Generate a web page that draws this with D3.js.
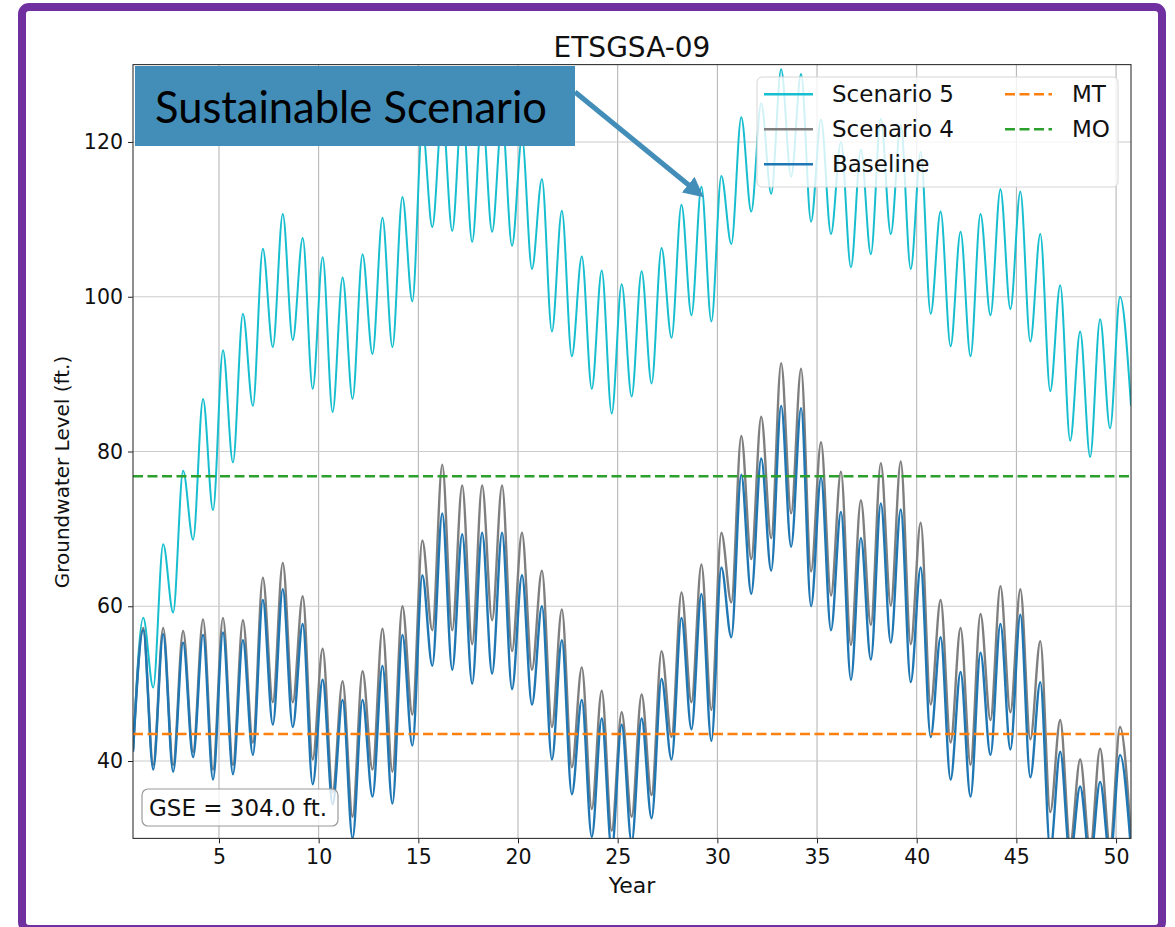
<!DOCTYPE html>
<html>
<head>
<meta charset="utf-8">
<script src="https://cdn.jsdelivr.net/npm/d3@7"></script>
<style>
  html, body { margin: 0; padding: 0; background: #ffffff; }
  svg { display: block; }
</style>
</head>
<body>
<svg id="chart" width="1175" height="927"></svg>
<script>
// Knot times (years): record start, then each year's seasonal high (~x.2) and low (~x.7)
const knotYears = [0.69,
  1.2, 1.7, 2.2, 2.7, 3.2, 3.7, 4.2, 4.7, 5.2, 5.7, 6.2, 6.7, 7.2, 7.7, 8.2, 8.7, 9.2, 9.7, 10.2, 10.7,
  11.2, 11.7, 12.2, 12.7, 13.2, 13.7, 14.2, 14.7, 15.2, 15.7, 16.2, 16.7, 17.2, 17.7, 18.2, 18.7, 19.2, 19.7, 20.2, 20.7,
  21.2, 21.7, 22.2, 22.7, 23.2, 23.7, 24.2, 24.7, 25.2, 25.7, 26.2, 26.7, 27.2, 27.7, 28.2, 28.7, 29.2, 29.7, 30.2, 30.7,
  31.2, 31.7, 32.2, 32.7, 33.2, 33.7, 34.2, 34.7, 35.2, 35.7, 36.2, 36.7, 37.2, 37.7, 38.2, 38.7, 39.2, 39.7, 40.2, 40.7,
  41.2, 41.7, 42.2, 42.7, 43.2, 43.7, 44.2, 44.7, 45.2, 45.7, 46.2, 46.7, 47.2, 47.7, 48.2, 48.7, 49.2, 49.7, 50.2, 50.75];

// Groundwater level (ft.) at each knot
const baseline = [41.2,
  56.9, 38.9, 56.4, 38.6, 55.3, 40.5, 56.3, 37.6, 56.6, 38.3, 55.6, 40.8, 60.8, 44.7, 62.2, 44.4, 57.7, 37.0, 50.5, 34.4,
  47.9, 30.0, 47.9, 35.4, 52.3, 34.5, 56.3, 42.0, 64.0, 52.3, 72.0, 51.8, 69.3, 50.0, 69.5, 51.3, 69.5, 49.3, 64.0, 47.3,
  60.0, 40.2, 55.6, 35.7, 47.9, 30.2, 45.5, 28.5, 44.7, 29.5, 45.5, 32.6, 50.6, 40.2, 58.5, 44.1, 61.6, 42.6, 65.0, 56.0,
  77.0, 61.6, 79.1, 64.6, 85.9, 67.7, 85.6, 60.0, 76.6, 56.9, 72.2, 50.5, 68.8, 53.1, 73.3, 55.3, 72.5, 50.2, 65.0, 43.1,
  56.0, 37.6, 51.5, 35.4, 54.0, 40.8, 57.7, 41.5, 58.9, 37.9, 50.2, 28.5, 41.2, 27.5, 36.7, 27.0, 37.3, 27.5, 40.8, 28.5];

const scenario4 = [41.5,
  57.2, 39.5, 57.2, 39.5, 56.8, 41.2, 58.3, 38.9, 58.5, 39.5, 58.2, 42.4, 63.7, 47.6, 65.6, 47.6, 61.3, 40.2, 54.5, 36.0,
  50.3, 32.8, 51.6, 38.9, 57.1, 38.6, 60.0, 46.0, 68.5, 56.9, 78.3, 56.9, 75.6, 55.1, 75.6, 58.2, 75.6, 54.2, 69.5, 51.8,
  64.6, 44.4, 59.6, 39.2, 52.1, 33.8, 49.1, 31.0, 46.3, 32.8, 48.6, 35.6, 54.2, 43.1, 61.8, 47.6, 65.4, 46.6, 69.5, 60.5,
  82.0, 66.1, 84.5, 68.8, 91.4, 72.0, 90.7, 64.5, 81.2, 61.4, 77.4, 55.0, 73.7, 57.6, 78.5, 60.1, 78.7, 55.1, 70.8, 47.3,
  60.8, 42.4, 57.2, 39.5, 59.0, 45.3, 62.6, 46.3, 62.2, 42.8, 55.5, 33.4, 45.3, 29.3, 40.2, 28.5, 41.6, 29.0, 44.4, 30.0];

const scenario5 = [41.5,
  58.5, 49.5, 68.0, 59.2, 77.5, 68.6, 86.8, 72.4, 93.1, 78.6, 97.8, 85.9, 106.2, 93.5, 110.7, 94.4, 107.6, 88.1, 105.1, 85.1,
  102.5, 86.8, 105.5, 92.6, 110.2, 93.5, 112.9, 99.4, 122.0, 109.0, 124.0, 108.5, 125.0, 107.1, 124.0, 108.4, 123.0, 106.6, 120.5, 103.6,
  115.2, 95.5, 111.1, 92.3, 105.2, 88.1, 103.4, 84.9, 101.6, 87.1, 103.3, 88.8, 106.3, 94.7, 111.9, 97.6, 114.2, 96.8, 115.6, 106.8,
  123.2, 111.0, 125.0, 113.3, 129.4, 115.5, 128.8, 109.7, 122.9, 108.1, 120.0, 103.8, 119.0, 105.5, 123.0, 108.1, 122.2, 103.6, 118.7, 97.8,
  111.0, 93.6, 108.4, 92.3, 110.7, 97.6, 113.9, 98.4, 113.6, 94.2, 108.1, 87.8, 101.5, 81.4, 95.5, 79.3, 97.1, 83.0, 100.0, 85.9];

// Threshold levels
const mtLevel = 43.5;   // minimum threshold
const moLevel = 76.8;   // measurable objective

const xTicks = [5, 10, 15, 20, 25, 30, 35, 40, 45, 50];
const yTicks = [40, 60, 80, 100, 120];

const seriesNames = ["Scenario 5", "Scenario 4", "Baseline"];
const thresholdNames = ["MT", "MO"];

const chartTitle = "ETSGSA-09";
const xLabel = "Year";
const yLabel = "Groundwater Level (ft.)";
const gseNote = "GSE = 304.0 ft.";
const calloutText = "Sustainable Scenario";

// ---- layout ----
const svg = d3.select("#chart");
const plot = { left: 133, right: 1131, top: 64.6, bottom: 838.4 };
const FONT = "'DejaVu Sans', sans-serif";

const x = d3.scaleLinear().domain([0.686, 50.75]).range([plot.left, plot.right]);
const y = d3.scaleLinear().domain([30, 130]).range([plot.bottom, plot.top]);

// page frame
svg.append("rect")
  .attr("x", 22).attr("y", 7).attr("width", 1140).attr("height", 922)
  .attr("rx", 7)
  .attr("fill", "#ffffff")
  .attr("stroke", "#7030a0").attr("stroke-width", 8);

// clip for plot area
svg.append("defs").append("clipPath").attr("id", "plotClip")
  .append("rect")
  .attr("x", plot.left).attr("y", plot.top)
  .attr("width", plot.right - plot.left).attr("height", plot.bottom - plot.top);

// grid
const grid = svg.append("g");
grid.selectAll("line.vg").data(xTicks).join("line")
  .attr("x1", d => x(d)).attr("x2", d => x(d))
  .attr("y1", plot.top).attr("y2", plot.bottom)
  .attr("stroke", "#b0b0b0").attr("stroke-width", 1);
grid.selectAll("line.hg").data(yTicks).join("line")
  .attr("x1", plot.left).attr("x2", plot.right)
  .attr("y1", d => y(d)).attr("y2", d => y(d))
  .attr("stroke", "#cccccc").attr("stroke-width", 1.2);

// series
const lineGen = (vals) => d3.line()
  .x((d, i) => x(knotYears[i]))
  .y(d => y(d))
  .curve(d3.curveMonotoneX)(vals);

const lines = svg.append("g").attr("clip-path", "url(#plotClip)");
lines.append("path").attr("d", lineGen(scenario5))
  .attr("fill", "none").attr("stroke", "#17becf").attr("stroke-width", 2);
lines.append("path").attr("d", lineGen(scenario4))
  .attr("fill", "none").attr("stroke", "#7f7f7f").attr("stroke-width", 2.4);
lines.append("path").attr("d", lineGen(baseline))
  .attr("fill", "none").attr("stroke", "#1f77b4").attr("stroke-width", 2.4);

// thresholds
lines.append("line")
  .attr("x1", plot.left).attr("x2", plot.right)
  .attr("y1", y(mtLevel)).attr("y2", y(mtLevel))
  .attr("stroke", "#ff7f0e").attr("stroke-width", 2.5).attr("stroke-dasharray", "10,4.5");
lines.append("line")
  .attr("x1", plot.left).attr("x2", plot.right)
  .attr("y1", y(moLevel)).attr("y2", y(moLevel))
  .attr("stroke", "#2ca02c").attr("stroke-width", 2.5).attr("stroke-dasharray", "10,4.5");

// axes
const xAxis = svg.append("g").attr("transform", `translate(0,${plot.bottom})`)
  .call(d3.axisBottom(x).tickValues(xTicks).tickSize(5).tickPadding(6));
const yAxis = svg.append("g").attr("transform", `translate(${plot.left},0)`)
  .call(d3.axisLeft(y).tickValues(yTicks).tickSize(5).tickPadding(5));
[xAxis, yAxis].forEach(g => {
  g.select(".domain").remove();
  g.selectAll(".tick line").attr("stroke", "#222").attr("stroke-width", 1);
  g.selectAll(".tick text").attr("font-family", FONT).attr("font-size", 20.5).attr("fill", "#111");
});

// frame of axes
svg.append("rect")
  .attr("x", plot.left).attr("y", plot.top)
  .attr("width", plot.right - plot.left).attr("height", plot.bottom - plot.top)
  .attr("fill", "none").attr("stroke", "#333").attr("stroke-width", 1.1);

// title and axis labels
svg.append("text").attr("x", (plot.left + plot.right) / 2).attr("y", 57)
  .attr("text-anchor", "middle").attr("font-family", FONT).attr("font-size", 28).attr("fill", "#111")
  .text(chartTitle);
svg.append("text").attr("x", (plot.left + plot.right) / 2).attr("y", 893)
  .attr("text-anchor", "middle").attr("font-family", FONT).attr("font-size", 22).attr("fill", "#111")
  .text(xLabel);
svg.append("text")
  .attr("transform", "translate(69,472) rotate(-90)")
  .attr("text-anchor", "middle").attr("font-family", FONT).attr("font-size", 20).attr("fill", "#111")
  .text(yLabel);

// legend
const legend = svg.append("g");
legend.append("rect")
  .attr("x", 757).attr("y", 77).attr("width", 361).attr("height", 110).attr("rx", 5)
  .attr("fill", "#ffffff").attr("fill-opacity", 0.8)
  .attr("stroke", "#d6d6d6").attr("stroke-width", 1);
const seriesColors = ["#17becf", "#7f7f7f", "#1f77b4"];
seriesNames.forEach((name, i) => {
  const ly = 94.3 + i * 35;
  legend.append("line").attr("x1", 764).attr("x2", 813).attr("y1", ly).attr("y2", ly)
    .attr("stroke", seriesColors[i]).attr("stroke-width", 2.4);
  legend.append("text").attr("x", 832).attr("y", ly + 8)
    .attr("font-family", FONT).attr("font-size", 23).attr("fill", "#111").text(name);
});
const thresholdColors = ["#ff7f0e", "#2ca02c"];
thresholdNames.forEach((name, i) => {
  const ly = 94.3 + i * 35;
  legend.append("line").attr("x1", 1005).attr("x2", 1052).attr("y1", ly).attr("y2", ly)
    .attr("stroke", thresholdColors[i]).attr("stroke-width", 2.5).attr("stroke-dasharray", "10,4.5");
  legend.append("text").attr("x", 1072).attr("y", ly + 8)
    .attr("font-family", FONT).attr("font-size", 23).attr("fill", "#111").text(name);
});

// ground surface elevation note
svg.append("rect")
  .attr("x", 142).attr("y", 789).attr("width", 196).attr("height", 37).attr("rx", 6)
  .attr("fill", "#ffffff").attr("fill-opacity", 0.8)
  .attr("stroke", "#999").attr("stroke-width", 1.2);
svg.append("text").attr("x", 149).attr("y", 816)
  .attr("font-family", FONT).attr("font-size", 23).attr("fill", "#111").text(gseNote);

// callout box and arrow
svg.append("rect")
  .attr("x", 135).attr("y", 66).attr("width", 440).attr("height", 80)
  .attr("fill", "#438eb9");
svg.append("text").attr("x", 155).attr("y", 123)
  .attr("font-family", "Lato, 'Open Sans', sans-serif").attr("font-size", 44).attr("fill", "#000")
  .attr("textLength", 392).attr("lengthAdjust", "spacingAndGlyphs")
  .text(calloutText);

const defs = svg.select("defs");
defs.append("marker").attr("id", "arrowHead")
  .attr("viewBox", "0 0 10 10").attr("refX", 5).attr("refY", 5)
  .attr("markerWidth", 4).attr("markerHeight", 4).attr("orient", "auto")
  .append("path").attr("d", "M0,0 L10,5 L0,10 Z").attr("fill", "#438eb9");
svg.append("line")
  .attr("x1", 575).attr("y1", 92).attr("x2", 696).attr("y2", 191)
  .attr("stroke", "#438eb9").attr("stroke-width", 5)
  .attr("marker-end", "url(#arrowHead)");
</script>
</body>
</html>
